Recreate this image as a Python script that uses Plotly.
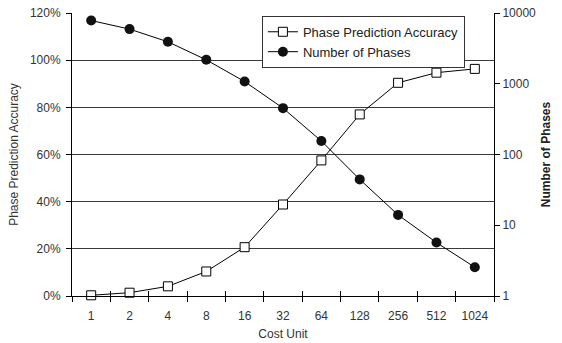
import plotly.graph_objects as go

cost_units = ["1", "2", "4", "8", "16", "32", "64", "128", "256", "512", "1024"]
accuracy = [0.003, 0.014, 0.041, 0.104, 0.207, 0.388, 0.575, 0.77, 0.904, 0.947, 0.963]
num_phases = [7830, 5920, 3916, 2178, 1074, 452, 155, 44.5, 14, 5.7, 2.55]
acc_ticks = [0, 0.2, 0.4, 0.6, 0.8, 1.0, 1.2]
phase_ticks = [1, 10, 100, 1000, 10000]

FONT = "Liberation Sans, Arial, sans-serif"

fig = go.Figure()
fig.add_trace(go.Scatter(
    x=cost_units, y=accuracy, name="Phase Prediction Accuracy",
    mode="lines+markers",
    line=dict(color="black", width=1),
    marker=dict(symbol="square", size=9, color="white", line=dict(color="black", width=1)),
    yaxis="y", cliponaxis=False,
))
fig.add_trace(go.Scatter(
    x=cost_units, y=num_phases, name="Number of Phases",
    mode="lines+markers",
    line=dict(color="black", width=1),
    marker=dict(symbol="circle", size=10, color="#111111", line=dict(color="black", width=0)),
    yaxis="y2", cliponaxis=False,
))

fig.update_layout(
    width=562, height=343,
    margin=dict(l=72, r=68, t=13, b=47, autoexpand=False),
    paper_bgcolor="white", plot_bgcolor="white",
    font=dict(family=FONT, size=12, color="#333333"),
    showlegend=True,
    legend=dict(
        x=0.45, y=0.99, xanchor="left", yanchor="top",
        bgcolor="white", bordercolor="#333333", borderwidth=1,
        font=dict(size=13, color="#222222"),
        itemwidth=30, tracegroupgap=0,
    ),
    xaxis=dict(
        type="category", categoryorder="array", categoryarray=cost_units,
        range=[-0.5, 10.5], automargin=False,
        showline=True, linecolor="black", linewidth=1,
        ticks="outside", tickson="boundaries", ticklen=5, tickcolor="black",
        ticklabelstandoff=9,
        showgrid=False, zeroline=False,
        title=dict(text="Cost Unit", standoff=7, font=dict(size=12, color="#333333")),
    ),
    xaxis2=dict(
        overlaying="x", range=[-0.5, 10.5], side="bottom", automargin=False,
        tickvals=[i + 0.5 for i in range(-1, 11)],
        ticks="inside", ticklen=5, tickcolor="black",
        showticklabels=False, showgrid=False, zeroline=False, showline=False,
    ),
    yaxis=dict(
        range=[0, 1.2], tickvals=acc_ticks, tickformat=".0%", automargin=False,
        showline=True, linecolor="black", linewidth=1,
        ticks="outside", ticklen=5, tickcolor="black", ticklabelstandoff=3,
        showgrid=True, gridcolor="#3a3a3a", gridwidth=1,
        zeroline=False,
        title=dict(text="Phase Prediction Accuracy", standoff=8, font=dict(size=12, color="#333333")),
    ),
    yaxis2=dict(
        type="log", range=[0, 4], overlaying="y", side="right", automargin=False,
        tickvals=phase_ticks, ticktext=[str(v) for v in phase_ticks],
        showline=True, linecolor="black", linewidth=1,
        ticks="outside", ticklen=5, tickcolor="black",
        showgrid=False, zeroline=False,
        title=dict(text="<b>Number of Phases</b>", standoff=6, font=dict(size=12, color="#222222")),
    ),
)
# invisible trace to activate xaxis2 ticks
fig.add_trace(go.Scatter(x=[None], y=[None], xaxis="x2", yaxis="y", showlegend=False, hoverinfo="skip"))

fig.write_html(
    "out.html",
    config={"displayModeBar": False},
    post_script="document.body.style.margin='0';document.body.style.overflow='hidden';",
)
